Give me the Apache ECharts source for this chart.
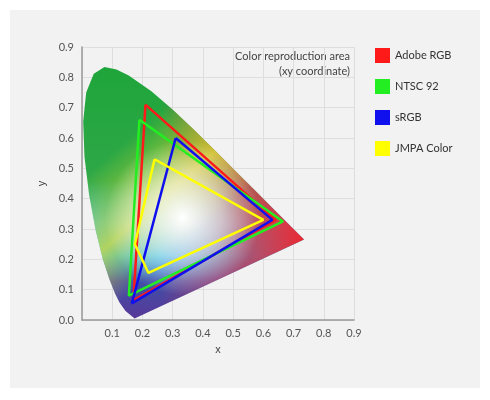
<!DOCTYPE html><html><head><meta charset="utf-8">
<script src="https://cdn.jsdelivr.net/npm/echarts@6/dist/echarts.min.js"></script>
<style>html,body{margin:0;background:#fff}#c{width:490px;height:400px}</style></head><body><div id="c"></div>
<script>
const locus=[[0.1741,0.005],[0.144,0.0297],[0.1241,0.0578],[0.1096,0.0868],[0.0913,0.1327],[0.0687,0.2007],[0.0454,0.295],[0.0235,0.4127],[0.0082,0.5384],[0.0039,0.6548],[0.0139,0.7502],[0.0389,0.812],[0.0743,0.8338],[0.1142,0.8262],[0.1547,0.8059],[0.2296,0.7543],[0.3016,0.6923],[0.3731,0.6245],[0.4441,0.5547],[0.5125,0.4866],[0.5752,0.4242],[0.627,0.3725],[0.6915,0.3083],[0.7347,0.2653]];
const names=['Adobe RGB','NTSC 92','sRGB','JMPA Color'];
const colors=['#ff1a1a','#22ee22','#1010ee','#ffff00'];
const adobe=[[0.21,0.71],[0.64,0.33],[0.17,0.065],[0.21,0.71]];
const ntsc=[[0.19,0.66],[0.665,0.325],[0.155,0.08],[0.19,0.66]];
const srgb=[[0.31,0.60],[0.63,0.33],[0.165,0.055],[0.31,0.60]];
const jmpa=[[0.24,0.53],[0.60,0.33],[0.22,0.155],[0.175,0.25],[0.24,0.53]];
const tris=[adobe,ntsc,srgb,jmpa];
const c=echarts.init(document.getElementById('c'));
const G=echarts.graphic;
function poly(fill){return {type:'custom',silent:true,data:[0],z:1,renderItem:(p,api)=>({type:'polygon',shape:{points:locus.map(d=>api.coord(d))},style:{fill:fill}})};}
const series=[
 poly(new G.LinearGradient(0,0,0,1,[{offset:0,color:'#1ea53a'},{offset:0.45,color:'#2fa848'},{offset:0.62,color:'#30b8d0'},{offset:0.75,color:'#08b0f0'},{offset:0.85,color:'#4050a8'},{offset:1,color:'#583898'}])),
 poly(new G.LinearGradient(0,0,1,0,[{offset:0.35,color:'rgba(220,40,60,0)'},{offset:0.7,color:'rgba(230,50,70,0.65)'},{offset:1,color:'rgba(235,40,50,1)'}])),
 poly(new G.LinearGradient(0,0,1,1,[{offset:0.25,color:'rgba(230,230,40,0)'},{offset:0.45,color:'rgba(245,225,40,0.7)'},{offset:0.6,color:'rgba(240,220,40,0)'}])),
 poly(new G.RadialGradient(0.45,0.6,0.35,[{offset:0,color:'rgba(255,255,255,1)'},{offset:0.5,color:'rgba(255,250,250,0.6)'},{offset:1,color:'rgba(255,255,255,0)'}]))
];
tris.forEach((t,i)=>series.push({type:'line',name:names[i],data:t,symbol:'none',z:5,lineStyle:{color:colors[i],width:2.5},itemStyle:{color:colors[i]}}));
const ticks=[0,0.1,0.2,0.3,0.4,0.5,0.6,0.7,0.8,0.9];
const ax=(n,gap)=>({type:'value',min:0,max:0.9,interval:0.1,name:n,nameLocation:'middle',nameGap:gap,nameTextStyle:{color:'#444',fontSize:11},
 axisLine:{show:true,lineStyle:{color:'#999',width:1.5}},axisTick:{show:false},splitLine:{lineStyle:{color:'#dedede'}},
 axisLabel:{color:'#555',fontSize:11,fontFamily:'Lato'}});
const xa=ax('x',24); xa.axisLabel.formatter=v=>v===0?'':v.toFixed(1);
const ya=ax('y',32); ya.axisLabel.formatter=v=>v.toFixed(1);
c.setOption({backgroundColor:'#fff',animation:false,
 graphic:[{type:'rect',shape:{x:10,y:10,width:470,height:378},style:{fill:'#f2f2f2'},z:-10},
  {type:'text',x:350,y:49,style:{text:'Color reproduction area\n(xy coordinate)',align:'right',fill:'#444',font:'11px Lato',lineHeight:15}}],
 grid:{left:82,right:136,top:47,bottom:80},
 xAxis:xa,yAxis:ya,
 legend:{data:names,orient:'vertical',left:370,top:43,icon:'rect',itemWidth:15,itemHeight:15,itemGap:16,textStyle:{color:'#333',fontSize:11,fontFamily:'Lato'}},
 series});
</script></body></html>
